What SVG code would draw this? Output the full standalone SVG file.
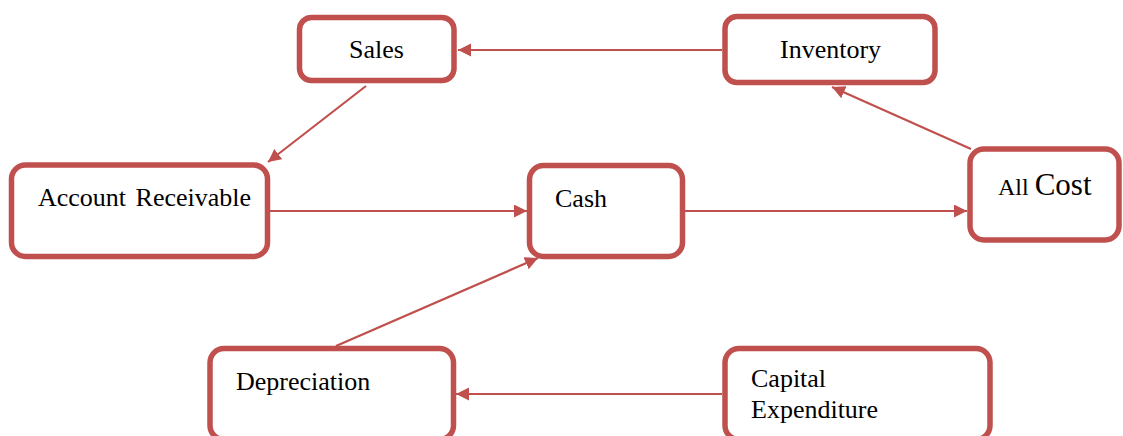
<svg xmlns="http://www.w3.org/2000/svg" width="1123" height="436" viewBox="0 0 1123 436">
<style>
.box{fill:#fff;stroke:#C0504D;stroke-width:5.5}
.lbl{font-family:'Liberation Serif','DejaVu Serif',serif;font-size:26px;fill:#000}
.con{stroke:#C0504D;stroke-width:2.2;fill:none}
</style>
<defs>
<marker id="ah" markerUnits="userSpaceOnUse" markerWidth="14" markerHeight="14" viewBox="0 0 14 14" refX="13" refY="6.5" orient="auto">
<path d="M0,0 L13,6.5 L0,13 z" fill="#C0504D"/>
</marker>
</defs>
<rect width="1123" height="436" fill="#fff"/>
<g id="connectors">
<line class="con" x1="722" y1="50" x2="458" y2="50" marker-end="url(#ah)"/>
<line class="con" x1="366" y1="86" x2="268" y2="162" marker-end="url(#ah)"/>
<line class="con" x1="270" y1="211" x2="527" y2="211" marker-end="url(#ah)"/>
<line class="con" x1="685" y1="211" x2="967" y2="211" marker-end="url(#ah)"/>
<line class="con" x1="971" y1="149" x2="832" y2="87" marker-end="url(#ah)"/>
<line class="con" x1="336" y1="346" x2="538" y2="258" marker-end="url(#ah)"/>
<line class="con" x1="722" y1="394" x2="456" y2="394" marker-end="url(#ah)"/>
</g>
<g id="sales">
<rect class="box" x="299.5" y="17.5" width="154.5" height="63" rx="12"/>
<text class="lbl" font-family="Liberation Serif, serif" x="349" y="58">Sales</text>
</g>
<g id="inventory">
<rect class="box" x="725" y="16.5" width="210" height="66" rx="12"/>
<text class="lbl" font-family="Liberation Serif, serif" x="780" y="58">Inventory</text>
</g>
<g id="account-receivable">
<rect class="box" x="11.5" y="165" width="256" height="91.5" rx="14"/>
<text class="lbl" font-family="Liberation Serif, serif" x="38" y="206" word-spacing="3">Account Receivable</text>
</g>
<g id="cash">
<rect class="box" x="529.5" y="165.5" width="153" height="91" rx="14"/>
<text class="lbl" font-family="Liberation Serif, serif" x="555" y="207">Cash</text>
</g>
<g id="all-cost">
<rect class="box" x="970" y="149" width="149" height="91" rx="14"/>
<text class="lbl" font-family="Liberation Serif, serif" x="998" y="195"><tspan font-size="24">All </tspan><tspan font-size="31">Cost</tspan></text>
</g>
<g id="depreciation">
<rect class="box" x="210" y="348.5" width="243.5" height="91" rx="14"/>
<text class="lbl" font-family="Liberation Serif, serif" x="236" y="390">Depreciation</text>
</g>
<g id="capital-expenditure">
<rect class="box" x="725" y="348.5" width="265" height="91" rx="14"/>
<text class="lbl" font-family="Liberation Serif, serif" x="751" y="387">Capital</text>
<text class="lbl" font-family="Liberation Serif, serif" x="751" y="418">Expenditure</text>
</g>
</svg>
